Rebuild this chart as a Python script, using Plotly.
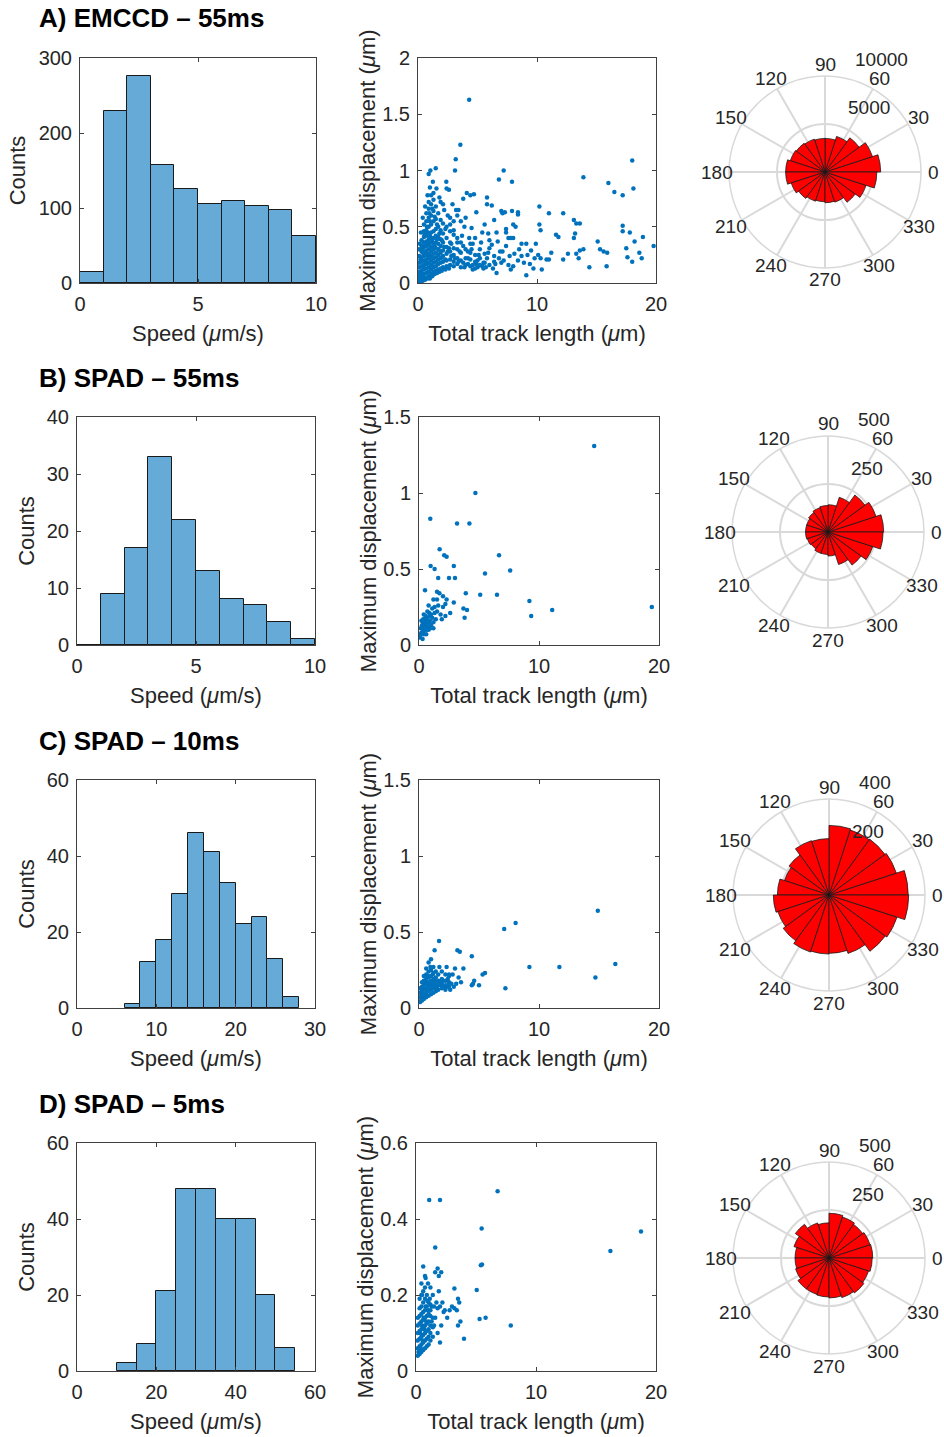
import math
import plotly.graph_objects as go

FONT = "Liberation Sans, Arial, Helvetica, sans-serif"
TXT = "#262626"
W, H = 944, 1437

# ---------------- data ----------------
row_titles = ["A) EMCCD \u2013 55ms", "B) SPAD \u2013 55ms", "C) SPAD \u2013 10ms", "D) SPAD \u2013 5ms"]

# histograms (bin edges + counts)
hist_a_edges = [0, 1, 2, 3, 4, 5, 6, 7, 8, 9, 10]
hist_a_counts = [15, 229, 276, 158, 125, 106, 109, 103, 97, 63]
hist_b_edges = [0, 1, 2, 3, 4, 5, 6, 7, 8, 9, 10]
hist_b_counts = [0, 9, 17, 33, 22, 13, 8, 7, 4, 1]
hist_c_edges = [6, 8, 10, 12, 14, 16, 18, 20, 22, 24, 26, 28]
hist_c_counts = [1, 12, 18, 30, 46, 41, 33, 22, 24, 13, 3]
hist_d_edges = [10, 15, 20, 25, 30, 35, 40, 45, 50, 55]
hist_d_counts = [2, 7, 21, 48, 48, 40, 40, 20, 6]

hist_x_ranges = [[0, 10], [0, 10], [0, 30], [0, 60]]
hist_x_ticks = [[0, 5, 10], [0, 5, 10], [0, 10, 20, 30], [0, 20, 40, 60]]
hist_y_ranges = [[0, 300], [0, 40], [0, 60], [0, 60]]
hist_y_ticks = [[0, 100, 200, 300], [0, 10, 20, 30, 40], [0, 20, 40, 60], [0, 20, 40, 60]]

# scatter: (total track length, maximum displacement)
scatter_a = [
    (4.3, 1.63), (3.56, 1.23), (3.17, 1.10), (3.11, 1.00), (0.9, 0.97), (1.04, 1.00), (1.49, 1.02),
    (7.2, 1.00), (6.8, 0.92), (7.9, 0.90), (2.38, 0.90), (13.9, 0.94), (18.0, 1.09), (16.0, 0.89),
    (16.5, 0.81), (17.2, 0.78), (18.1, 0.84), (10.2, 0.68), (11.0, 0.62), (12.2, 0.62), (13.1, 0.56),
    (13.3, 0.53), (13.6, 0.53), (17.2, 0.51), (17.2, 0.46), (17.8, 0.45), (18.2, 0.37), (18.9, 0.41),
    (19.8, 0.33), (18.8, 0.22), (18.6, 0.27), (17.5, 0.31), (18.0, 0.19), (17.6, 0.23), (15.1, 0.37),
    (15.3, 0.30), (15.6, 0.28), (15.9, 0.27), (15.85, 0.15), (14.4, 0.14), (13.9, 0.30), (13.6, 0.29),
    (13.3, 0.26), (13.5, 0.22), (13.2, 0.44), (13.1, 0.40), (12.6, 0.26), (12.2, 0.21), (11.8, 0.41),
    (11.6, 0.43), (11.2, 0.27), (11.0, 0.21), (10.8, 0.21), (10.3, 0.22), (10.3, 0.47), (10.2, 0.52),
    (9.9, 0.35), (10.1, 0.25), (9.8, 0.22), (10.4, 0.12), (9.1, 0.07), (9.2, 0.25), (9.5, 0.29),
    (9.1, 0.35), (8.7, 0.35), (8.5, 0.30), (8.4, 0.61), (8.4, 0.63), (8.2, 0.50), (8.0, 0.52),
    (7.9, 0.64), (8.1, 0.26), (8.9, 0.18), (8.0, 0.15), (8.0, 0.40), (7.8, 0.40), (7.6, 0.40),
    (7.4, 0.45), (7.4, 0.48), (7.1, 0.62), (7.0, 0.64), (7.3, 0.63), (7.4, 0.33), (7.2, 0.20),
    (7.0, 0.18), (7.6, 0.16), (7.8, 0.12), (6.6, 0.09), (6.4, 0.24), (6.2, 0.34), (6.0, 0.38),
    (6.0, 0.31), (5.8, 0.22), (5.7, 0.14), (6.2, 0.69), (5.8, 0.76), (5.8, 0.70), (5.5, 0.13),
    (5.4, 0.45), (5.2, 0.30), (5.0, 0.20), (4.9, 0.63), (4.7, 0.79), (4.5, 0.49), (4.4, 0.78),
    (4.3, 0.40), (4.1, 0.80), (4.0, 0.58), (3.9, 0.50), (3.8, 0.75), (3.6, 0.55), (3.4, 0.65),
    (3.3, 0.60), (3.2, 0.65), (2.9, 0.70), (2.6, 0.83), (2.8, 0.35),
    (5.1, 0.25), (5.5, 0.18), (6.5, 0.17), (6.8, 0.22), (6.3, 0.13), (4.6, 0.12), (4.9, 0.17),
    (4.2, 0.22), (3.9, 0.14), (3.5, 0.28), (5.9, 0.27), (6.9, 0.28), (7.7, 0.24), (8.4, 0.20),
    (8.7, 0.24), (9.4, 0.17), (9.7, 0.13), (4.5, 0.30), (5.3, 0.36), (6.6, 0.45), (6.4, 0.56),
    (5.6, 0.52), (4.8, 0.40), (3.7, 0.42), (3.3, 0.36), (2.5, 0.60), (2.2, 0.65), (1.8, 0.76),
    (1.9, 0.72), (2.3, 0.48), (2.7, 0.52), (3.0, 0.47), (4.2, 0.28), (4.6, 0.35), (3.8, 0.33),
    (5.9, 0.44), (6.7, 0.37), (7.1, 0.28),
    (0.05, 0.01), (0.15, 0.02), (0.25, 0.01), (0.35, 0.03), (0.2, 0.05), (0.4, 0.06), (0.1, 0.08),
    (0.1, 0.02), (0.1, 0.06), (0.1, 0.10), (0.1, 0.14), (0.1, 0.18), (0.1, 0.24), (0.1, 0.30),
    (0.3, 0.03), (0.3, 0.07), (0.3, 0.11), (0.3, 0.15), (0.3, 0.19), (0.3, 0.23), (0.3, 0.28),
    (0.3, 0.33), (0.3, 0.38),
    (0.5, 0.04), (0.5, 0.08), (0.5, 0.12), (0.5, 0.16), (0.5, 0.20), (0.5, 0.24), (0.5, 0.28),
    (0.5, 0.32), (0.5, 0.36), (0.5, 0.41), (0.5, 0.46), (0.5, 0.52),
    (0.7, 0.05), (0.7, 0.09), (0.7, 0.13), (0.7, 0.17), (0.7, 0.21), (0.7, 0.25), (0.7, 0.29),
    (0.7, 0.33), (0.7, 0.37), (0.7, 0.42), (0.7, 0.47), (0.7, 0.55), (0.7, 0.62),
    (0.9, 0.06), (0.9, 0.10), (0.9, 0.14), (0.9, 0.18), (0.9, 0.22), (0.9, 0.26), (0.9, 0.30),
    (0.9, 0.34), (0.9, 0.39), (0.9, 0.44), (0.9, 0.50), (0.9, 0.58), (0.9, 0.66), (0.9, 0.72),
    (1.1, 0.08), (1.1, 0.12), (1.1, 0.16), (1.1, 0.20), (1.1, 0.24), (1.1, 0.28), (1.1, 0.32),
    (1.1, 0.36), (1.1, 0.40), (1.1, 0.45), (1.1, 0.52), (1.1, 0.60), (1.1, 0.70), (1.1, 0.78),
    (1.3, 0.10), (1.3, 0.14), (1.3, 0.18), (1.3, 0.22), (1.3, 0.26), (1.3, 0.30), (1.3, 0.35),
    (1.3, 0.40), (1.3, 0.46), (1.3, 0.55), (1.3, 0.64), (1.3, 0.74), (1.3, 0.80),
    (1.5, 0.11), (1.5, 0.15), (1.5, 0.19), (1.5, 0.23), (1.5, 0.27), (1.5, 0.31), (1.5, 0.36),
    (1.5, 0.42), (1.5, 0.48), (1.5, 0.57), (1.5, 0.68),
    (1.7, 0.12), (1.7, 0.17), (1.7, 0.21), (1.7, 0.25), (1.7, 0.30), (1.7, 0.35), (1.7, 0.41),
    (1.7, 0.50), (1.7, 0.62),
    (1.9, 0.13), (1.9, 0.18), (1.9, 0.22), (1.9, 0.27), (1.9, 0.33), (1.9, 0.39), (1.9, 0.47),
    (1.9, 0.56),
    (2.1, 0.14), (2.1, 0.19), (2.1, 0.24), (2.1, 0.29), (2.1, 0.36), (2.1, 0.44), (2.1, 0.53),
    (2.1, 0.70),
    (2.4, 0.15), (2.4, 0.20), (2.4, 0.26), (2.4, 0.32), (2.4, 0.40), (2.4, 0.50), (2.4, 0.84),
    (2.7, 0.16), (2.7, 0.21), (2.7, 0.28), (2.7, 0.36), (2.7, 0.46), (2.7, 0.58),
    (3.0, 0.15), (3.0, 0.19), (3.0, 0.25), (3.0, 0.31), (3.0, 0.43), (3.0, 0.55),
    (3.3, 0.17), (3.3, 0.22), (3.3, 0.30), (3.3, 0.40), (3.6, 0.14), (3.6, 0.20), (3.6, 0.27),
    (3.6, 0.36), (4.0, 0.16), (4.0, 0.22), (4.0, 0.30), (4.4, 0.15), (4.4, 0.21), (4.4, 0.27),
    (4.4, 0.35), (4.8, 0.13), (4.8, 0.19), (4.8, 0.25), (5.2, 0.16), (5.2, 0.22), (5.6, 0.18),
    (5.6, 0.26),
    (0.2, 0.04), (0.4, 0.02), (0.6, 0.03), (0.8, 0.04), (0.25, 0.09), (0.45, 0.14), (0.65, 0.19),
    (0.85, 0.24), (0.4, 0.27), (0.6, 0.35), (0.8, 0.45), (1.0, 0.55), (0.2, 0.21), (0.35, 0.31),
    (0.55, 0.43), (0.75, 0.50), (0.95, 0.62), (1.2, 0.66), (1.4, 0.59), (1.6, 0.52), (1.8, 0.44),
    (2.0, 0.38), (2.2, 0.32), (2.5, 0.28), (2.8, 0.24), (3.1, 0.22), (3.4, 0.19), (3.8, 0.18),
    (4.2, 0.17), (4.6, 0.16), (5.0, 0.14), (5.4, 0.15), (6.0, 0.16), (6.4, 0.19), (1.0, 0.04),
    (1.2, 0.06), (1.4, 0.08), (1.6, 0.09), (1.8, 0.10), (2.0, 0.11), (2.3, 0.12), (2.6, 0.13),
    (0.15, 0.35), (0.25, 0.45), (0.4, 0.58), (0.6, 0.68), (0.8, 0.78), (1.0, 0.85), (1.25, 0.90),
    (1.55, 0.84), (1.2, 0.37), (1.0, 0.42), (1.4, 0.33), (1.6, 0.39), (1.8, 0.29), (2.0, 0.23),
    (2.3, 0.21), (2.6, 0.31), (0.85, 0.36), (0.65, 0.27),
]

scatter_b = [
    (14.6, 1.31), (4.7, 1.00), (0.94, 0.83), (3.17, 0.80), (4.2, 0.80), (6.67, 0.59), (7.6, 0.49),
    (5.5, 0.47), (6.5, 0.33), (5.1, 0.33), (3.9, 0.34), (4.0, 0.23), (3.7, 0.24), (3.8, 0.18),
    (9.2, 0.29), (9.35, 0.19), (11.1, 0.23), (19.4, 0.25), (1.72, 0.63), (2.1, 0.59), (2.3, 0.58),
    (0.97, 0.52), (1.3, 0.50), (1.6, 0.44), (2.5, 0.44), (2.9, 0.52), (3.0, 0.44), (2.9, 0.28),
    (2.6, 0.21), (2.2, 0.27), (2.0, 0.25), (2.0, 0.32), (2.3, 0.30), (1.7, 0.34), (1.5, 0.35),
    (1.5, 0.30), (1.2, 0.30), (0.5, 0.36), (0.8, 0.26), (1.1, 0.24), (1.3, 0.25), (1.5, 0.22),
    (1.8, 0.20), (1.9, 0.17), (1.4, 0.17), (1.0, 0.20), (0.7, 0.22), (0.6, 0.18), (0.4, 0.15),
    (0.3, 0.12), (0.5, 0.10), (0.2, 0.08), (0.1, 0.05), (0.3, 0.04), (0.7, 0.14), (0.9, 0.16),
    (0.6, 0.12), (0.4, 0.20), (0.2, 0.16), (0.8, 0.10), (1.0, 0.13), (1.2, 0.15), (0.6, 0.07),
    (0.35, 0.09), (0.15, 0.11), (0.5, 0.16), (0.7, 0.18), (0.9, 0.19), (0.25, 0.13), (0.45, 0.13),
    (0.55, 0.14), (0.65, 0.10), (0.75, 0.12), (0.85, 0.14), (0.35, 0.17), (0.2, 0.11), (0.4, 0.07),
    (1.1, 0.18), (1.3, 0.21), (1.6, 0.26), (2.2, 0.19), (1.2, 0.11), (0.55, 0.19), (0.45, 0.17),
    (0.65, 0.15), (0.35, 0.14), (0.15, 0.07), (0.75, 0.16), (0.85, 0.21), (0.95, 0.11),
]

scatter_c = [
    (14.9, 0.64), (16.36, 0.29), (14.7, 0.20), (11.7, 0.27), (9.2, 0.27), (8.05, 0.56), (7.1, 0.52),
    (7.2, 0.13), (5.5, 0.23), (5.3, 0.22), (5.0, 0.15), (4.6, 0.18), (4.5, 0.16), (4.4, 0.15),
    (4.4, 0.34), (3.7, 0.26), (3.4, 0.37), (3.2, 0.38), (3.0, 0.26), (3.3, 0.20), (3.5, 0.17),
    (3.1, 0.16), (2.8, 0.22), (2.5, 0.22), (2.3, 0.27), (1.67, 0.44), (1.3, 0.38), (1.0, 0.32),
    (0.8, 0.30), (1.7, 0.27), (2.0, 0.18), (1.8, 0.15), (2.2, 0.13), (2.4, 0.15), (2.6, 0.12),
    (0.1, 0.04), (0.1, 0.07), (0.1, 0.10), (0.1, 0.13),
    (0.25, 0.05), (0.25, 0.08), (0.25, 0.11), (0.25, 0.14), (0.25, 0.17),
    (0.4, 0.06), (0.4, 0.09), (0.4, 0.12), (0.4, 0.15), (0.4, 0.18), (0.4, 0.21),
    (0.6, 0.07), (0.6, 0.10), (0.6, 0.13), (0.6, 0.16), (0.6, 0.19), (0.6, 0.22), (0.6, 0.26),
    (0.8, 0.08), (0.8, 0.11), (0.8, 0.14), (0.8, 0.17), (0.8, 0.20), (0.8, 0.24),
    (1.0, 0.09), (1.0, 0.12), (1.0, 0.15), (1.0, 0.18), (1.0, 0.21), (1.0, 0.25),
    (1.2, 0.10), (1.2, 0.13), (1.2, 0.16), (1.2, 0.19), (1.2, 0.23), (1.2, 0.27),
    (1.4, 0.11), (1.4, 0.14), (1.4, 0.17), (1.4, 0.20), (1.4, 0.24),
    (1.6, 0.12), (1.6, 0.15), (1.6, 0.18), (1.6, 0.22),
    (1.9, 0.13), (1.9, 0.16), (1.9, 0.19), (1.9, 0.24),
    (2.2, 0.12), (2.2, 0.15), (2.2, 0.18), (2.2, 0.22),
    (2.5, 0.14), (2.5, 0.17), (2.5, 0.21),
    (0.2, 0.06), (0.5, 0.08), (0.7, 0.12), (0.9, 0.16), (1.1, 0.14), (1.3, 0.18), (1.5, 0.13),
    (1.7, 0.17), (2.0, 0.14), (2.4, 0.19), (0.35, 0.13), (0.55, 0.17), (0.75, 0.21), (0.95, 0.27),
    (1.15, 0.22), (1.35, 0.15), (2.7, 0.16), (2.9, 0.14),
]

scatter_d = [
    (18.75, 0.367), (16.2, 0.316), (6.8, 0.473), (1.1, 0.45), (2.0, 0.45), (5.47, 0.375),
    (5.4, 0.278), (5.5, 0.28), (5.06, 0.213), (5.3, 0.137), (5.8, 0.14), (7.9, 0.12), (4.0, 0.085),
    (3.2, 0.217), (3.5, 0.19), (3.6, 0.18), (3.4, 0.16), (3.2, 0.165), (3.5, 0.12), (3.7, 0.13),
    (2.8, 0.16), (2.6, 0.14), (2.3, 0.155), (1.6, 0.325), (0.6, 0.275), (1.8, 0.27), (2.1, 0.26),
    (1.9, 0.25), (1.6, 0.26), (2.0, 0.075), (1.0, 0.23), (1.2, 0.22), (0.8, 0.245), (0.5, 0.20),
    (1.9, 0.21), (2.2, 0.18), (2.1, 0.12), (1.8, 0.10), (2.4, 0.16), (3.0, 0.17), (1.4, 0.20),
    (1.6, 0.14), (1.3, 0.13), (1.7, 0.18), (2.0, 0.17), (1.5, 0.17), (1.8, 0.165), (1.2, 0.175),
    (0.15, 0.04), (0.15, 0.06), (0.15, 0.08), (0.15, 0.10), (0.15, 0.12), (0.15, 0.14),
    (0.3, 0.045), (0.3, 0.065), (0.3, 0.085), (0.3, 0.105), (0.3, 0.125), (0.3, 0.145), (0.3, 0.165),
    (0.3, 0.19),
    (0.45, 0.05), (0.45, 0.07), (0.45, 0.09), (0.45, 0.11), (0.45, 0.13), (0.45, 0.15), (0.45, 0.17),
    (0.45, 0.20), (0.45, 0.23),
    (0.6, 0.055), (0.6, 0.075), (0.6, 0.095), (0.6, 0.115), (0.6, 0.135), (0.6, 0.155), (0.6, 0.18),
    (0.6, 0.21),
    (0.75, 0.06), (0.75, 0.08), (0.75, 0.10), (0.75, 0.12), (0.75, 0.14), (0.75, 0.16), (0.75, 0.19),
    (0.75, 0.22), (0.75, 0.25),
    (0.9, 0.065), (0.9, 0.085), (0.9, 0.105), (0.9, 0.125), (0.9, 0.145), (0.9, 0.17), (0.9, 0.20),
    (1.05, 0.07), (1.05, 0.09), (1.05, 0.11), (1.05, 0.13), (1.05, 0.15), (1.05, 0.18),
    (1.2, 0.08), (1.2, 0.10), (1.2, 0.12), (1.2, 0.145), (1.2, 0.16),
    (1.4, 0.09), (1.4, 0.115), (1.4, 0.14),
    (0.2, 0.05), (0.4, 0.06), (0.55, 0.08), (0.7, 0.11), (0.85, 0.13), (1.0, 0.16), (1.15, 0.19),
    (0.35, 0.10), (0.5, 0.12), (0.65, 0.14), (0.8, 0.17), (0.95, 0.185), (1.3, 0.17), (1.5, 0.12),
]

scatter_y_ranges = [[0, 2], [0, 1.5], [0, 1.5], [0, 0.6]]
scatter_y_ticks = [[0, 0.5, 1, 1.5, 2], [0, 0.5, 1, 1.5], [0, 0.5, 1, 1.5], [0, 0.2, 0.4, 0.6]]
scatter_x_range = [0, 20]
scatter_x_ticks = [0, 10, 20]

# rose (polar histogram), 18-degree bins, counter-clockwise from 0 deg
rose_theta = [9, 27, 45, 63, 81, 99, 117, 135, 153, 171, 189, 207, 225, 243, 261, 279, 297, 315, 333, 351]
rose_a = [5800, 5200, 4400, 3900, 3500, 3500, 3600, 3700, 3800, 4100, 4100, 3700, 3400, 3200, 3100,
          3200, 3300, 3900, 4500, 5400]
rose_b = [290, 263, 238, 190, 142, 138, 133, 125, 117, 117, 117, 113, 108, 117, 117, 125, 178, 213,
          245, 287]
rose_c = [330, 295, 288, 285, 290, 235, 238, 206, 195, 215, 232, 224, 236, 250, 246, 243, 256, 290,
          298, 332]
rose_d = [228, 225, 217, 225, 233, 183, 192, 217, 192, 177, 177, 183, 200, 200, 203, 208, 217, 225,
          217, 225]
rose_max = [10000, 500, 400, 500]
rose_ticks = [[5000, 10000], [250, 500], [200, 400], [250, 500]]
angle_ticks = [0, 30, 60, 90, 120, 150, 180, 210, 240, 270, 300, 330]

# ---------------- layout geometry (pixels) ----------------
hist_box = [(80, 316, 58, 283), (77, 315, 417, 645), (77, 315, 780, 1008), (77, 315, 1143, 1371)]
scat_box = [(418, 656, 58, 283), (419, 659, 417, 645), (419, 659, 780, 1008), (416, 656, 1143, 1371)]
polar_center = [(825, 172), (828, 532), (829, 895), (829, 1258)]
polar_r = 96
angle_label_gap = 12
title_y = [18, 378, 741, 1104]
# radial tick label offsets from the polar centre (inner ring, outer ring), pixels
rlabel_off = [(21, -64), (28, -113)]


def dx(a, b):
    return [a / W, b / W]


def dy(top, bottom):
    return [1 - bottom / H, 1 - top / H]


tickfont = dict(family=FONT, size=20, color=TXT)
titlefont = dict(family=FONT, size=22, color=TXT)
polarfont = dict(family=FONT, size=19, color=TXT)


def cart_axis(domain, rng, ticks, title, anchor, standoff):
    return dict(domain=domain, range=rng, tickvals=ticks, showline=True, linecolor="#404040",
                linewidth=1, mirror="ticks", ticks="inside", ticklen=4, tickcolor="#404040",
                tickfont=tickfont, showgrid=False, zeroline=False, anchor=anchor,
                ticklabelstandoff=3,
                title=dict(text=title, font=titlefont, standoff=standoff), automargin=False)


hists = [(hist_a_edges, hist_a_counts), (hist_b_edges, hist_b_counts),
         (hist_c_edges, hist_c_counts), (hist_d_edges, hist_d_counts)]
scatters = [scatter_a, scatter_b, scatter_c, scatter_d]
roses = [rose_a, rose_b, rose_c, rose_d]

fig = go.Figure()
layout = {}
annotations = []

for i in range(4):
    hx = 2 * i + 1
    sx = 2 * i + 2
    hn = "" if hx == 1 else str(hx)
    sn = str(sx)

    edges, counts = hists[i]
    centers = [(edges[k] + edges[k + 1]) / 2 for k in range(len(counts))]
    widths = [edges[k + 1] - edges[k] for k in range(len(counts))]
    fig.add_trace(go.Bar(x=centers, y=counts, width=widths, xaxis="x" + hn, yaxis="y" + hn,
                         marker=dict(color="rgb(102,170,215)", line=dict(color="#1a1a1a", width=1)),
                         showlegend=False, hoverinfo="x+y"))
    l, r, t, b = hist_box[i]
    layout["xaxis" + hn] = cart_axis(dx(l, r), hist_x_ranges[i], hist_x_ticks[i],
                                     "Speed (<i>\u03bc</i>m/s)", "y" + hn, 11)
    layout["yaxis" + hn] = cart_axis(dy(t, b), hist_y_ranges[i], hist_y_ticks[i],
                                     "Counts", "x" + hn, 6)

    pts = scatters[i]
    fig.add_trace(go.Scatter(x=[p[0] for p in pts], y=[p[1] for p in pts], mode="markers",
                             xaxis="x" + sn, yaxis="y" + sn, showlegend=False,
                             marker=dict(color="#0072BD", size=4.5, line=dict(width=0))))
    l, r, t, b = scat_box[i]
    layout["xaxis" + sn] = cart_axis(dx(l, r), scatter_x_range, scatter_x_ticks,
                                     "Total track length (<i>\u03bc</i>m)", "y" + sn, 11)
    layout["yaxis" + sn] = cart_axis(dy(t, b), scatter_y_ranges[i], scatter_y_ticks[i],
                                     "Maximum displacement (<i>\u03bc</i>m)", "x" + sn, 0)

    pn = "polar" if i == 0 else "polar" + str(i + 1)
    fig.add_trace(go.Barpolar(r=roses[i], theta=rose_theta, width=[18] * len(rose_theta),
                              subplot=pn, showlegend=False,
                              marker=dict(color="#ff0000", line=dict(color="#1a1a1a", width=0.8))))
    cx, cy = polar_center[i]
    layout[pn] = dict(
        domain=dict(x=dx(cx - polar_r, cx + polar_r), y=dy(cy - polar_r, cy + polar_r)),
        bgcolor="white",
        angularaxis=dict(direction="counterclockwise", rotation=0, tickvals=angle_ticks,
                         showticklabels=False, ticks="", showline=True, linecolor="#d9d9d9",
                         linewidth=1.5, gridcolor="#d9d9d9", gridwidth=1.5, layer="below traces"),
        radialaxis=dict(range=[0, rose_max[i]], tickvals=rose_ticks[i], showline=False,
                        showticklabels=False, ticks="", gridcolor="#d9d9d9", gridwidth=1.5,
                        angle=75, layer="below traces"),
    )
    # angular tick labels, MATLAB-style: centred just outside the outer ring
    for a in angle_ticks:
        rad = math.radians(a)
        lx = cx + (polar_r + angle_label_gap) * math.cos(rad)
        ly = cy - (polar_r + angle_label_gap) * math.sin(rad)
        annotations.append(dict(text=str(a), xref="paper", yref="paper", x=lx / W, y=1 - ly / H,
                                xanchor="center", yanchor="middle", showarrow=False,
                                font=polarfont))
    # radial tick labels (horizontal, beside the rings)
    for k, val in enumerate(rose_ticks[i]):
        ox, oy = rlabel_off[k]
        annotations.append(dict(text=str(val), xref="paper", yref="paper",
                                x=(cx + ox) / W, y=1 - (cy + oy) / H, xanchor="left",
                                yanchor="middle", showarrow=False, font=polarfont))

    annotations.append(dict(text="<b>" + row_titles[i] + "</b>", xref="paper", yref="paper",
                            x=37 / W, y=1 - title_y[i] / H, xanchor="left", yanchor="middle",
                            showarrow=False, font=dict(family=FONT, size=26, color="#000000")))

fig.update_layout(width=W, height=H, margin=dict(l=0, r=0, t=0, b=0),
                  paper_bgcolor="white", plot_bgcolor="white", annotations=annotations,
                  font=dict(family=FONT, color=TXT), bargap=0, **layout)

fig.write_html("out.html", config={"displayModeBar": False},
               post_script="document.body.style.margin='0px';")
